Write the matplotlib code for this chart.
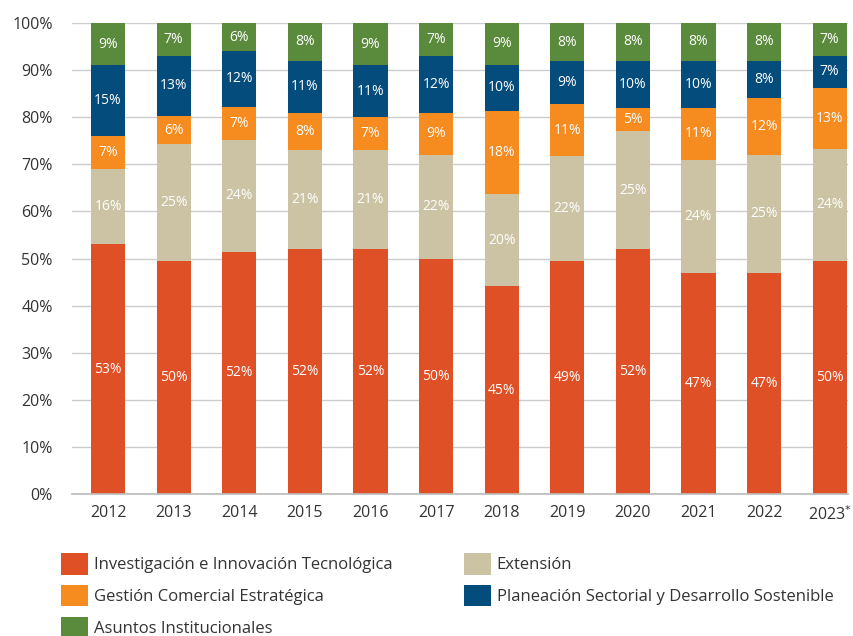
import matplotlib
matplotlib.use("Agg")
import matplotlib.pyplot as plt
import numpy as np
from matplotlib.patches import Patch

years = ["2012", "2013", "2014", "2015", "2016", "2017", "2018", "2019", "2020", "2021", "2022", "2023$^{*}$"]
investigacion = [53, 50, 52, 52, 52, 50, 45, 49, 52, 47, 47, 50]
extension = [16, 25, 24, 21, 21, 22, 20, 22, 25, 24, 25, 24]
gestion = [7, 6, 7, 8, 7, 9, 18, 11, 5, 11, 12, 13]
planeacion = [15, 13, 12, 11, 11, 12, 10, 9, 10, 10, 8, 7]
asuntos = [9, 7, 6, 8, 9, 7, 9, 8, 8, 8, 8, 7]

series_names = ["Investigación e Innovación Tecnológica", "Extensión",
                "Gestión Comercial Estratégica",
                "Planeación Sectorial y Desarrollo Sostenible",
                "Asuntos Institucionales"]
series = [investigacion, extension, gestion, planeacion, asuntos]
colors = ["#E05026", "#CBC3A3", "#F68B1F", "#044C7C", "#5A8A3C"]

plt.rcParams['font.family'] = ['Open Sans', 'DejaVu Sans']

fig = plt.figure(figsize=(8.54, 6.36), dpi=100)
ax = fig.add_axes([0.0843, 0.2233, 0.9087, 0.7405])

data = np.array(series, dtype=float)
totals = data.sum(axis=0)
shares = data / totals * 100
x = np.arange(len(years))
bottom = np.zeros(len(years))
for vals, sh, c in zip(series, shares, colors):
    ax.bar(x, sh, bottom=bottom, color=c, width=0.52, zorder=3)
    for xi, v, s, b in zip(x, vals, sh, bottom):
        ax.text(xi, b + s / 2, f"{v}%", ha="center", va="center",
                color="white", fontsize=10, zorder=4)
    bottom += sh

ax.set_xlim(-0.55, 11.28)
ax.set_ylim(0, 100)
ax.set_yticks(np.arange(0, 101, 10))
ax.set_yticklabels([f"{v}%" for v in range(0, 101, 10)], fontsize=11.5, color="#333333")
ax.set_xticks(x)
ax.set_xticklabels(years, fontsize=11.5, color="#333333")
ax.tick_params(length=0, pad=8)
ax.tick_params(axis="y", pad=14)
ax.grid(axis="y", color="#CCCCCC", linewidth=1, zorder=0)
for s in ["top", "right", "left"]:
    ax.spines[s].set_visible(False)
ax.spines["bottom"].set_color("#BBBBBB")
ax.spines["bottom"].set_linewidth(1.2)
ax.spines["bottom"].set_zorder(5)

order = [0, 2, 4, 1, 3]
handles = [Patch(facecolor=colors[i], edgecolor="none") for i in order]
labels = [series_names[i] for i in order]
fig.legend(handles, labels, loc="upper left", bbox_to_anchor=(0.072, 0.130),
           ncol=2, frameon=False, fontsize=12, handlelength=1.6, handleheight=1.6,
           handletextpad=0.35, columnspacing=4.3, labelspacing=0.62,
           labelcolor="#333333", borderaxespad=0, borderpad=0)

fig.savefig("out.png", dpi=100)
